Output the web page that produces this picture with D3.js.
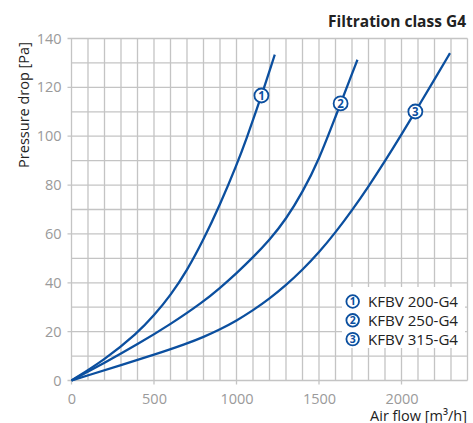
<!DOCTYPE html>
<html>
<head>
<meta charset="utf-8">
<script src="https://cdn.jsdelivr.net/npm/d3@7"></script>
<style>
  html, body { margin: 0; padding: 0; background: #fff; }
  svg { display: block; font-family: "Open Sans", "Noto Sans", sans-serif; }
</style>
</head>
<body>
<svg id="chart" width="473" height="423"></svg>
<script>
// ---- data ----
const seriesNames = ["KFBV 200-G4", "KFBV 250-G4", "KFBV 315-G4"];
const seriesIds = ["1", "2", "3"];
// [air flow m3/h, pressure drop Pa]
const kfbv200 = [[0,0],[200,8.4],[400,19.4],[500,26.6],[600,34.8],[700,45],[800,57.6],[900,72],[1000,88],[1066,100],[1117,110],[1168,120],[1216,130],[1232,133.4]];
const kfbv250 = [[0,0],[200,7.2],[400,14.8],[600,23],[800,32.3],[900,37.9],[1000,43.9],[1100,50.4],[1200,57.5],[1300,66],[1400,77],[1500,90.4],[1600,108],[1700,125.5],[1733,131.3]];
const kfbv315 = [[0,0],[100,2.1],[300,6.3],[500,10.5],[700,15.1],[800,17.8],[900,20.9],[1000,24.5],[1100,28.7],[1200,33.5],[1300,39],[1400,45.3],[1500,52.4],[1600,60.6],[1700,69.6],[1800,79.4],[1900,89.8],[2000,100.7],[2100,111.9],[2200,123.3],[2294,134]];
// flow at which the numbered marker sits on each curve
const markerFlow = [1151, 1631, 2084];
const xTicks = [0, 500, 1000, 1500, 2000];
const yTicks = [0, 20, 40, 60, 80, 100, 120, 140];
const title = "Filtration class G4";
const xTitle = "Air flow [m³/h]";
const yTitle = "Pressure drop [Pa]";

// ---- layout ----
const svg = d3.select("#chart");
const blue = "#0b4f9f";
const gridColor = "#c4c4c4";
const x = d3.scaleLinear().domain([0, 2400]).range([71.5, 467.5]);
const y = d3.scaleLinear().domain([0, 140]).range([380.5, 38.5]);

// grid
const g = svg.append("g");
g.selectAll("line.v").data(d3.range(0, 2401, 100)).join("line")
  .attr("x1", d => x(d)).attr("x2", d => x(d))
  .attr("y1", y(140)).attr("y2", d => d % 500 === 0 ? y(0) + 4 : y(0))
  .attr("stroke", gridColor).attr("stroke-width", 1.3);
g.selectAll("line.h").data(d3.range(0, 141, 10)).join("line")
  .attr("y1", d => y(d)).attr("y2", d => y(d))
  .attr("x1", d => d % 20 === 0 ? x(0) - 4 : x(0)).attr("x2", x(2400))
  .attr("stroke", gridColor).attr("stroke-width", 1.3);

// axes labels via d3 axes
const xAxis = d3.axisBottom(x).tickValues(xTicks).tickFormat(d3.format("d")).tickSize(0).tickPadding(13);
svg.append("g").attr("transform", `translate(0,${y(0)})`).call(xAxis)
  .call(s => s.select(".domain").remove())
  .call(s => s.selectAll("text").attr("fill", "#9a9a9a").attr("font-size", 14.5).attr("font-family", "Open Sans"));
const yAxis = d3.axisLeft(y).tickValues(yTicks).tickFormat(d3.format("d")).tickSize(0).tickPadding(10);
svg.append("g").attr("transform", `translate(${x(0)},0)`).call(yAxis)
  .call(s => s.select(".domain").remove())
  .call(s => s.selectAll("text").attr("fill", "#9a9a9a").attr("font-size", 14.5).attr("font-family", "Open Sans"));

// legend background (covers grid)
const lg = svg.append("g");
lg.append("rect").attr("x", 342).attr("y", 287).attr("width", 123).attr("height", 61).attr("fill", "#fff");

// curves
const line = d3.line().x(d => x(d[0])).y(d => y(d[1])).curve(d3.curveBasis);
const series = [kfbv200, kfbv250, kfbv315];
svg.append("g").selectAll("path").data(series).join("path")
  .attr("d", line).attr("fill", "none").attr("stroke", blue).attr("stroke-width", 2.3)
  .attr("stroke-linecap", "butt");

// numbered markers on curves
function interpY(data, fx) {
  for (let i = 1; i < data.length; i++) {
    if (fx <= data[i][0]) {
      const a = data[i-1], b = data[i];
      return a[1] + (b[1]-a[1]) * (fx - a[0]) / (b[0] - a[0]);
    }
  }
  return data[data.length-1][1];
}
function badge(parent, cx, cy, r, label, fs) {
  const gg = parent.append("g").attr("transform", `translate(${cx},${cy})`);
  gg.append("circle").attr("r", r).attr("fill", "#fff").attr("stroke", blue).attr("stroke-width", 1.8);
  gg.append("text").attr("text-anchor", "middle").attr("dy", "0.36em")
    .attr("fill", blue).attr("font-size", fs).attr("font-weight", 700).text(label);
}
series.forEach((s, i) => {
  badge(svg, x(markerFlow[i]), y(interpY(s, markerFlow[i])), 7, seriesIds[i], 11.5);
});

// legend entries
seriesNames.forEach((n, i) => {
  const cy = 301.5 + i * 18.8;
  badge(lg, 352.7, cy, 6.3, seriesIds[i], 10.5);
  lg.append("text").attr("x", 368).attr("y", cy).attr("dy", "0.36em")
    .attr("fill", "#222").attr("font-size", 15)
    .attr("textLength", 90).attr("lengthAdjust", "spacingAndGlyphs").text(n);
});

// titles
svg.append("text").attr("x", 466).attr("y", 27).attr("text-anchor", "end")
  .attr("font-weight", 700).attr("font-size", 15.5).attr("fill", "#222").text(title);
svg.append("text").attr("x", 467).attr("y", 421).attr("text-anchor", "end")
  .attr("font-size", 14.5).attr("fill", "#222").text(xTitle);
svg.append("text").attr("transform", "translate(29,105) rotate(-90)").attr("text-anchor", "middle")
  .attr("font-size", 14.5).attr("fill", "#222").text(yTitle);
</script>
</body>
</html>
